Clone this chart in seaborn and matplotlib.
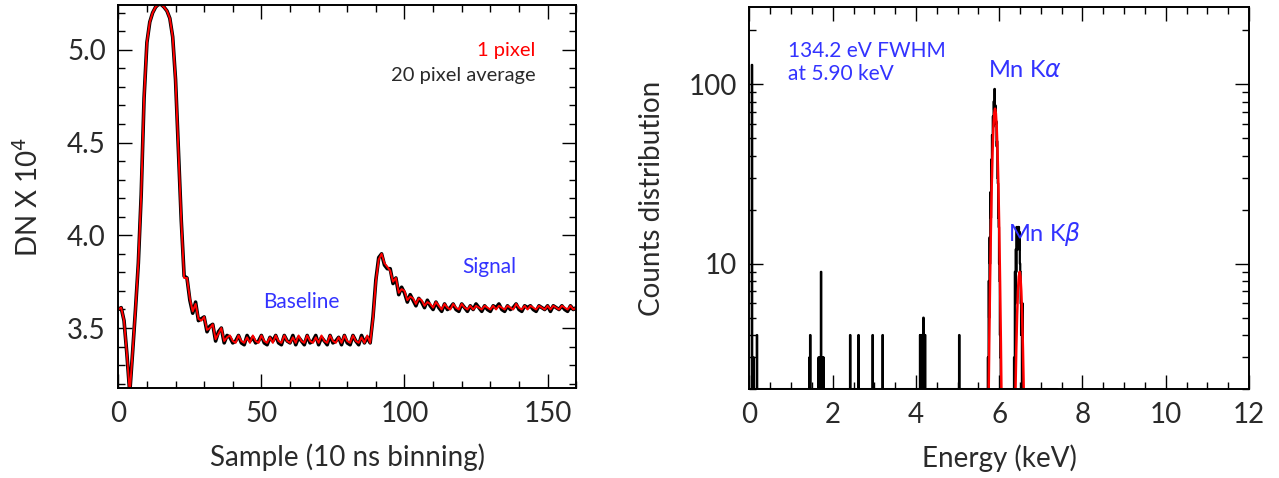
import numpy as np
import pandas as pd
import seaborn as sns
import matplotlib.pyplot as plt
from matplotlib.ticker import MultipleLocator, LogLocator, FixedLocator, NullFormatter, FormatStrFormatter

# ---- left panel: waveform (DN / 1e4), one value per sample ----
wave_1px = [3.60, 3.61, 3.54, 3.36, 3.15, 3.37, 3.60, 3.85, 4.22, 4.74,
            5.04, 5.15, 5.20, 5.23, 5.245, 5.245, 5.23, 5.21, 5.17, 5.07,
            4.84, 4.46, 4.08, 3.77, 3.77, 3.66, 3.59, 3.63, 3.55, 3.54,
            3.56, 3.49, 3.50, 3.52, 3.44, 3.47, 3.50, 3.43, 3.45,
            3.46, 3.43, 3.42, 3.46, 3.43, 3.42, 3.45, 3.42, 3.46, 3.43,
            3.42, 3.46, 3.43, 3.42, 3.45, 3.42, 3.46, 3.43, 3.42, 3.46,
            3.43, 3.42, 3.45, 3.42, 3.46, 3.43, 3.42, 3.46, 3.43, 3.42,
            3.45, 3.42, 3.46, 3.43, 3.42, 3.46, 3.43, 3.42, 3.45, 3.42,
            3.46, 3.43, 3.42, 3.46, 3.43, 3.42, 3.45, 3.42, 3.46, 3.42,
            3.55, 3.75, 3.87, 3.90, 3.85, 3.83, 3.81, 3.75, 3.77, 3.69,
            3.71, 3.70, 3.65, 3.67, 3.66, 3.63, 3.66, 3.65, 3.62, 3.64,
            3.63, 3.61, 3.64, 3.62, 3.60, 3.63,
            3.61, 3.60, 3.63, 3.61, 3.60, 3.63, 3.61, 3.60, 3.62, 3.60,
            3.62, 3.61, 3.60, 3.62, 3.61, 3.60, 3.62, 3.60, 3.62, 3.61,
            3.60, 3.62, 3.61, 3.60, 3.63, 3.61, 3.60, 3.62, 3.60, 3.62,
            3.61, 3.60, 3.62, 3.61, 3.60, 3.62, 3.60, 3.62, 3.61, 3.60,
            3.62, 3.61, 3.60, 3.62, 3.60, 3.61]

wave_20px = [3.60, 3.61, 3.54, 3.36, 3.15, 3.37, 3.60, 3.85, 4.22, 4.74,
             5.04, 5.15, 5.20, 5.23, 5.245, 5.245, 5.23, 5.21, 5.17, 5.07,
             4.84, 4.46, 4.08, 3.78, 3.77, 3.65, 3.58, 3.64, 3.54, 3.55,
             3.56, 3.48, 3.51, 3.52, 3.43, 3.48, 3.50, 3.42, 3.46,
             3.45, 3.42, 3.43, 3.46, 3.42, 3.41, 3.46, 3.43, 3.45, 3.42,
             3.43, 3.46, 3.42, 3.41, 3.45, 3.43, 3.46, 3.42, 3.41, 3.46,
             3.43, 3.42, 3.46, 3.41, 3.45, 3.43, 3.41, 3.46, 3.42, 3.43,
             3.46, 3.41, 3.45, 3.43, 3.41, 3.46, 3.42, 3.43, 3.45, 3.41,
             3.46, 3.42, 3.41, 3.46, 3.43, 3.41, 3.46, 3.42, 3.45, 3.42,
             3.56, 3.76, 3.88, 3.90, 3.84, 3.82, 3.82, 3.74, 3.77, 3.68,
             3.72, 3.69, 3.64, 3.68, 3.65, 3.62, 3.66, 3.64, 3.61, 3.65,
             3.62, 3.60, 3.64, 3.61, 3.59, 3.63,
             3.60, 3.61, 3.63, 3.60, 3.59, 3.63, 3.61, 3.59, 3.62, 3.60,
             3.63, 3.61, 3.59, 3.62, 3.60, 3.59, 3.62, 3.61, 3.63, 3.60,
             3.59, 3.62, 3.60, 3.61, 3.63, 3.60, 3.59, 3.62, 3.61, 3.62,
             3.60, 3.59, 3.62, 3.61, 3.60, 3.62, 3.59, 3.62, 3.61, 3.60,
             3.62, 3.60, 3.59, 3.62, 3.60, 3.61]

# ---- right panel: energy spectrum, 0.01 keV bins, only non-empty bins listed ----
bin_step = 0.01
bin_max = 7.40
floor_count = 2
hist_energy = [0.06, 0.10, 0.18,
               1.44, 1.46,
               1.66, 1.68, 1.70, 1.72, 1.74, 1.76, 1.78,
               2.42, 2.62, 2.96, 3.20,
               4.10, 4.12, 4.14, 4.16, 4.18, 4.20, 4.22,
               5.04,
               5.73, 5.75, 5.76, 5.77, 5.78, 5.79, 5.80, 5.81, 5.82, 5.83,
               5.84, 5.85, 5.86, 5.87, 5.88, 5.89, 5.90, 5.91, 5.92, 5.93,
               5.94, 5.95, 5.96, 5.97, 5.98, 5.99, 6.00, 6.01, 6.02, 6.03,
               6.36, 6.38, 6.39, 6.40, 6.41, 6.42, 6.43, 6.44, 6.45, 6.46,
               6.47, 6.48, 6.49, 6.50, 6.51, 6.52, 6.53, 6.54, 6.56]
hist_counts = [128, 3, 4,
               3, 4,
               3, 3, 3, 9, 3, 3, 3,
               4, 4, 4, 4,
               4, 4, 4, 4, 5, 4, 4,
               4,
               3, 8, 5, 14, 10, 25, 18, 38, 30, 52,
               45, 66, 58, 80, 72, 94, 70, 76, 60, 62,
               45, 48, 30, 28, 18, 16, 10, 8, 4, 3,
               3, 9, 6, 12, 9, 16, 12, 14, 16, 13,
               16, 12, 15, 10, 9, 6, 4, 6, 6]

# gaussian fit
fit_energy = [5.72, 5.74, 5.76, 5.78, 5.80, 5.82, 5.84, 5.86, 5.88, 5.90,
              5.92, 5.94, 5.96, 5.98, 6.00, 6.02, 6.04, 6.06, 6.08,
              6.37, 6.39, 6.41, 6.43, 6.45, 6.47, 6.49, 6.51, 6.53, 6.55,
              6.57, 6.59, 6.61]
fit_counts = [0.5, 1.42, 3.6, 8.0, 15.7, 27.3, 42.0, 57.1, 68.6, 73.0,
              68.6, 57.1, 42.0, 27.3, 15.7, 8.0, 3.6, 1.42, 0.5,
              0.98, 1.94, 3.36, 5.18, 7.04, 8.46, 9.0, 8.46, 7.04, 5.18,
              3.36, 1.94, 0.98]

# assemble full histogram
bin_energy = np.round(np.arange(0, bin_max + bin_step / 2, bin_step), 2)
bin_counts = np.full(len(bin_energy), float(floor_count))
for e, c in zip(hist_energy, hist_counts):
    bin_counts[int(round(e / bin_step))] = c

blue = '#3333ff'
ink = '#2a2a2a'

sns.set_theme(style='ticks')
plt.rcParams['font.family'] = ['Lato', 'DejaVu Sans']
plt.rcParams['mathtext.fontset'] = 'dejavusans'

fig = plt.figure(figsize=(12.79, 4.78), dpi=100)
ax1 = fig.add_axes([0.0925, 0.188, 0.358, 0.802])
ax2 = fig.add_axes([0.586, 0.186, 0.3905, 0.800])

# left panel
df_wave = pd.DataFrame({'sample': np.arange(len(wave_1px)),
                        'px1': wave_1px, 'px20': wave_20px})
sns.lineplot(data=df_wave, x='sample', y='px20', ax=ax1, color='black',
             lw=2.6, estimator=None)
sns.lineplot(data=df_wave, x='sample', y='px1', ax=ax1, color='red',
             lw=1.4, estimator=None)
ax1.set_xlim(0, 160)
ax1.set_ylim(3.176, 5.243)
ax1.xaxis.set_major_locator(MultipleLocator(50))
ax1.xaxis.set_minor_locator(MultipleLocator(10))
ax1.yaxis.set_major_locator(MultipleLocator(0.5))
ax1.yaxis.set_minor_locator(MultipleLocator(0.1))
ax1.yaxis.set_major_formatter(FormatStrFormatter('%.1f'))
ax1.set_xlabel('Sample (10 ns binning)', fontsize=20, color=ink, labelpad=12)
ax1.set_ylabel('DN X 10$^4$', fontsize=20, color=ink, labelpad=17)
ax1.text(145.7, 4.969, '1 pixel', color='red', ha='right', fontsize=14.5)
ax1.text(145.7, 4.834, '20 pixel average', color=ink, ha='right', fontsize=14.5)
ax1.text(50.5, 3.609, 'Baseline', color=blue, fontsize=15)
ax1.text(120.3, 3.798, 'Signal', color=blue, fontsize=15)

# right panel
df_hist = pd.DataFrame({'energy': bin_energy, 'counts': bin_counts})
df_fit = pd.DataFrame({'energy': fit_energy, 'counts': fit_counts})
sns.lineplot(data=df_hist, x='energy', y='counts', ax=ax2, color='black',
             lw=1.6, estimator=None, drawstyle='steps-mid')
sns.lineplot(data=df_fit, x='energy', y='counts', ax=ax2, color='red',
             lw=1.8, estimator=None)
ax2.set_yscale('log')
ax2.set_xlim(0, 12)
ax2.set_ylim(2.0, 270)
ax2.xaxis.set_major_locator(MultipleLocator(2))
ax2.xaxis.set_minor_locator(MultipleLocator(0.5))
ax2.yaxis.set_major_locator(FixedLocator([10, 100]))
ax2.yaxis.set_major_formatter(FormatStrFormatter('%d'))
ax2.yaxis.set_minor_locator(LogLocator(base=10, subs=np.arange(2, 10)))
ax2.yaxis.set_minor_formatter(NullFormatter())
ax2.set_xlabel('Energy (keV)', fontsize=20, color=ink, labelpad=12)
ax2.set_ylabel('Counts distribution', fontsize=20, color=ink, labelpad=17)
ax2.text(0.92, 141, '134.2 eV FWHM', color=blue, fontsize=15)
ax2.text(0.92, 106, 'at 5.90 keV', color=blue, fontsize=15)
ax2.text(5.73, 109, r'Mn K$\alpha$', color=blue, fontsize=17)
ax2.text(6.21, 13.4, r'Mn K$\beta$', color=blue, fontsize=17)

for ax in (ax1, ax2):
    ax.tick_params(which='both', direction='in', top=True, right=True,
                   labelsize=20, width=1.0, color='black', labelcolor=ink)
    ax.tick_params(which='major', length=10, pad=9)
    ax.tick_params(which='minor', length=5)
    for sp in ax.spines.values():
        sp.set_visible(True)
        sp.set_linewidth(1.4)
        sp.set_color('black')
    ax.grid(False)

fig.savefig('out.png', dpi=100)
